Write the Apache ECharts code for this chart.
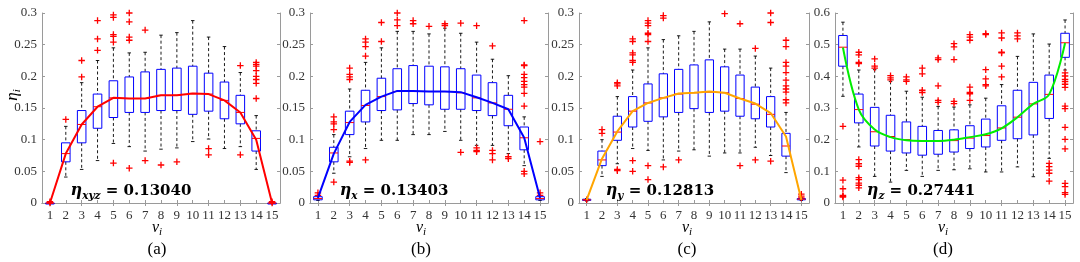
<!DOCTYPE html>
<html>
<head>
<meta charset="utf-8">
<script src="https://cdn.jsdelivr.net/npm/echarts@6.0.0/dist/echarts.min.js"></script>
<style>
html, body { margin: 0; padding: 0; background: #fff; }
#chart { width: 1080px; height: 262px; }
</style>
</head>
<body>
<div id="chart"></div>
<script>
// categories v_i
var cats = ['1', '2', '3', '4', '5', '6', '7', '8', '9', '10', '11', '12', '13', '14', '15'];

// box stats per category: [low whisker, q1, median, q3, high whisker]
var boxA = [
    [0, 0, 0, 0, 0], [0.041, 0.065, 0.078, 0.095, 0.121], [0.053, 0.095, 0.124, 0.146, 0.19],
    [0.067, 0.118, 0.152, 0.172, 0.225], [0.094, 0.135, 0.166, 0.193, 0.245], [0.089, 0.143, 0.165, 0.199, 0.237],
    [0.082, 0.143, 0.165, 0.207, 0.238], [0.085, 0.146, 0.17, 0.211, 0.265], [0.087, 0.146, 0.17, 0.213, 0.269],
    [0.097, 0.14, 0.173, 0.216, 0.288], [0.101, 0.145, 0.172, 0.205, 0.262], [0.086, 0.133, 0.162, 0.191, 0.247],
    [0.089, 0.125, 0.143, 0.17, 0.206], [0.053, 0.082, 0.102, 0.114, 0.138], [0, 0, 0, 0, 0]
];
var outA = [
    [0, 0.002], [0.132], [0.199, 0.225], [0.241, 0.259, 0.288], [0.063, 0.254, 0.263, 0.266, 0.293, 0.297],
    [0.055, 0.257, 0.262, 0.286, 0.3], [0.067, 0.273], [0.06], [0.065], [], [0.076, 0.086], [],
    [0.076, 0.217], [0.165, 0.189, 0.195, 0.2, 0.209, 0.216, 0.219, 0.222], [0, 0.002]
];
var meanA = [0, 0.078, 0.124, 0.152, 0.166, 0.165, 0.165, 0.17, 0.17, 0.173, 0.172, 0.162, 0.143, 0.1, 0];

var boxB = [
    [0.004, 0.005, 0.007, 0.01, 0.012], [0.047, 0.065, 0.079, 0.088, 0.108], [0.073, 0.108, 0.127, 0.145, 0.18],
    [0.086, 0.128, 0.154, 0.178, 0.222], [0.099, 0.146, 0.168, 0.197, 0.245], [0.099, 0.147, 0.176, 0.212, 0.271],
    [0.108, 0.157, 0.176, 0.217, 0.271], [0.108, 0.155, 0.176, 0.216, 0.267], [0.113, 0.148, 0.176, 0.215, 0.276],
    [0.099, 0.148, 0.174, 0.212, 0.268], [0.091, 0.146, 0.166, 0.202, 0.254], [0.091, 0.138, 0.158, 0.19, 0.227],
    [0.078, 0.122, 0.148, 0.17, 0.201], [0.059, 0.084, 0.103, 0.12, 0.136], [0.004, 0.005, 0.007, 0.01, 0.012]
];
var outB = [
    [0.012, 0.016], [0.033, 0.116, 0.125, 0.128, 0.136], [0.064, 0.066, 0.195, 0.199, 0.203, 0.213],
    [0.068, 0.232, 0.247, 0.254, 0.259], [0.255, 0.285], [0.28, 0.289, 0.3], [0.283, 0.288], [0.279],
    [0.28, 0.283], [0.08, 0.284], [0.081, 0.083, 0.087, 0.28], [0.068, 0.078, 0.083, 0.248], [0.07, 0.073],
    [0.046, 0.05, 0.153, 0.173, 0.183, 0.187, 0.192, 0.198, 0.203, 0.217, 0.218, 0.288], [0.012, 0.016, 0.097]
];
var meanB = [0.008, 0.078, 0.128, 0.155, 0.168, 0.177, 0.177, 0.176, 0.176, 0.175, 0.167, 0.158, 0.148, 0.103, 0.008];

var boxC = [
    [0.003, 0.004, 0.005, 0.006, 0.007], [0.042, 0.059, 0.068, 0.082, 0.1], [0.062, 0.099, 0.112, 0.137, 0.168],
    [0.086, 0.12, 0.145, 0.168, 0.21], [0.083, 0.129, 0.158, 0.188, 0.245], [0.068, 0.136, 0.166, 0.204, 0.258],
    [0.082, 0.143, 0.172, 0.211, 0.264], [0.084, 0.149, 0.174, 0.218, 0.271], [0.074, 0.143, 0.175, 0.226, 0.286],
    [0.079, 0.145, 0.174, 0.215, 0.243], [0.079, 0.137, 0.165, 0.202, 0.243], [0.088, 0.133, 0.156, 0.183, 0.232],
    [0.075, 0.12, 0.14, 0.168, 0.213], [0.048, 0.074, 0.09, 0.11, 0.143], [0.004, 0.005, 0.006, 0.007, 0.008]
];
var outC = [
    [0.005], [0.11, 0.116], [0.051, 0.053, 0.185, 0.188, 0.19], [0.05, 0.067, 0.222, 0.225, 0.234, 0.237, 0.255, 0.259],
    [0.037, 0.059, 0.255, 0.266, 0.268, 0.28, 0.284, 0.288], [0.057, 0.292, 0.296], [0.068], [], [],
    [0.299], [0.059, 0.283], [0.068, 0.244], [0.066, 0.285, 0.3],
    [0.158, 0.163, 0.175, 0.18, 0.185, 0.194, 0.206, 0.216, 0.222, 0.247, 0.257], [0.008, 0.011, 0.014]
];
var meanC = [0.005, 0.07, 0.113, 0.145, 0.158, 0.166, 0.173, 0.174, 0.176, 0.174, 0.165, 0.157, 0.142, 0.105, 0.005];

var boxD = [
    [0.337, 0.432, 0.492, 0.529, 0.571], [0.177, 0.253, 0.295, 0.344, 0.42], [0.084, 0.18, 0.225, 0.302, 0.421],
    [0.066, 0.164, 0.21, 0.277, 0.384], [0.103, 0.158, 0.2, 0.256, 0.353], [0.084, 0.151, 0.195, 0.242, 0.334],
    [0.103, 0.154, 0.195, 0.229, 0.305], [0.105, 0.161, 0.197, 0.231, 0.303], [0.108, 0.172, 0.205, 0.244, 0.31],
    [0.098, 0.177, 0.213, 0.265, 0.331], [0.098, 0.198, 0.237, 0.307, 0.374], [0.114, 0.203, 0.271, 0.356, 0.463],
    [0.083, 0.215, 0.313, 0.381, 0.534], [0.141, 0.267, 0.343, 0.404, 0.502], [0.42, 0.46, 0.506, 0.536, 0.578]
];
var outD = [
    [0.019, 0.021, 0.024, 0.045, 0.072, 0.242],
    [0.048, 0.056, 0.063, 0.074, 0.08, 0.116, 0.124, 0.137, 0.44, 0.444, 0.468, 0.476],
    [0.426, 0.432, 0.455], [0.389, 0.395, 0.402], [0.384, 0.389, 0.398], [0.349, 0.356, 0.408, 0.426],
    [0.318, 0.324, 0.37, 0.453, 0.458], [0.314, 0.321, 0.453, 0.493, 0.503],
    [0.324, 0.345, 0.349, 0.366, 0.514, 0.524, 0.532], [0.37, 0.374, 0.392, 0.421, 0.532, 0.535],
    [0.398, 0.432, 0.474, 0.476, 0.521, 0.537], [0.518, 0.528, 0.537], [],
    [0.069, 0.094, 0.104, 0.115, 0.125],
    [0.027, 0.033, 0.052, 0.062, 0.171, 0.201, 0.239, 0.298, 0.306, 0.365, 0.375, 0.383, 0.39, 0.401, 0.411]
];
var meanD = [0.491, 0.295, 0.232, 0.208, 0.198, 0.196, 0.196, 0.2, 0.208, 0.217, 0.236, 0.271, 0.313, 0.343, 0.505];

var etaSubs = ['xyz', 'x', 'y', 'z'];
var etaValues = ['0.13040', '0.13403', '0.12813', '0.27441'];
var panelNames = ['(a)', '(b)', '(c)', '(d)'];
var yMaxes = [0.3, 0.3, 0.3, 0.6];
var ySteps = [0.05, 0.05, 0.05, 0.1];

var boxes = [boxA, boxB, boxC, boxD];
var outs = [outA, outB, outC, outD];
var means = [meanA, meanB, meanC, meanD];
var lineColors = ['#ff0000', '#0000ff', '#ffa500', '#00ee00'];

var grids = [
    { left: 42, top: 13, width: 238, height: 190 },
    { left: 310, top: 13, width: 238, height: 190 },
    { left: 579, top: 13, width: 230, height: 190 },
    { left: 835, top: 13, width: 238, height: 190 }
];
var labelX = [131, 394, 660, 921];
var captionX = [157, 421, 687, 943];

var serif = 'Liberation Serif';
var axisGrey = '#9a9a9a';
var tickText = '#333';

function renderBox(params, api) {
    var i = api.value(0);
    var lo = api.coord([i, api.value(1)]);
    var q1 = api.coord([i, api.value(2)]);
    var md = api.coord([i, api.value(3)]);
    var q3 = api.coord([i, api.value(4)]);
    var hi = api.coord([i, api.value(5)]);
    var bw = api.size([1, 0])[0];
    var hw = bw * 0.27, cw = bw * 0.11;
    var cx = md[0];
    var dash = { stroke: '#000', lineWidth: 0.9, lineDash: [3, 2.5] };
    var solid = { stroke: '#000', lineWidth: 0.9 };
    return {
        type: 'group',
        children: [
            { type: 'line', shape: { x1: cx, y1: hi[1], x2: cx, y2: q3[1] }, style: dash },
            { type: 'line', shape: { x1: cx, y1: q1[1], x2: cx, y2: lo[1] }, style: dash },
            { type: 'line', shape: { x1: cx - cw, y1: hi[1], x2: cx + cw, y2: hi[1] }, style: solid },
            { type: 'line', shape: { x1: cx - cw, y1: lo[1], x2: cx + cw, y2: lo[1] }, style: solid },
            { type: 'rect', shape: { x: cx - hw, y: q3[1], width: 2 * hw, height: Math.max(q1[1] - q3[1], 1) },
              style: { fill: 'none', stroke: '#0000ff', lineWidth: 1 } },
            { type: 'line', shape: { x1: cx - hw, y1: md[1], x2: cx + hw, y2: md[1] },
              style: { stroke: '#ff0000', lineWidth: 1 } }
        ]
    };
}

var plus = 'path://M2,0H3V2H5V3H3V5H2V3H0V2H2Z';

var option = { animation: false, grid: [], xAxis: [], yAxis: [], series: [], graphic: [] };

for (var p = 0; p < 4; p++) {
    option.grid.push(grids[p]);
    var xBase = {
        type: 'category', data: cats, gridIndex: p, boundaryGap: true,
        axisLine: { show: true, lineStyle: { color: axisGrey, width: 1 } },
        axisTick: { show: true, inside: true, alignWithLabel: true, length: 3, lineStyle: { color: axisGrey } },
        splitLine: { show: false }
    };
    option.xAxis.push(Object.assign({}, xBase, {
        position: 'bottom',
        axisLabel: { show: true, interval: 0, margin: 6, fontFamily: serif, fontSize: 13, color: tickText }
    }));
    option.xAxis.push(Object.assign({}, xBase, { position: 'top', axisLabel: { show: false } }));
    var yBase = {
        type: 'value', gridIndex: p, min: 0, max: yMaxes[p], interval: ySteps[p],
        axisLine: { show: true, lineStyle: { color: axisGrey, width: 1 } },
        axisTick: { show: true, inside: true, length: 3, lineStyle: { color: axisGrey } },
        splitLine: { show: false }
    };
    option.yAxis.push(Object.assign({}, yBase, {
        position: 'left',
        axisLabel: { show: true, margin: 5, fontFamily: serif, fontSize: 13, color: tickText }
    }));
    option.yAxis.push(Object.assign({}, yBase, { position: 'right', axisLabel: { show: false } }));

    var boxData = boxes[p].map(function (b, i) { return [i].concat(b); });
    option.series.push({
        type: 'custom', xAxisIndex: 2 * p, yAxisIndex: 2 * p, z: 2,
        renderItem: renderBox,
        encode: { x: 0, y: [1, 2, 3, 4, 5] },
        data: boxData
    });

    var outData = [];
    outs[p].forEach(function (list, i) {
        list.forEach(function (v) { outData.push([i, v]); });
    });
    option.series.push({
        type: 'scatter', xAxisIndex: 2 * p, yAxisIndex: 2 * p, z: 3,
        symbol: plus, symbolSize: 6.5,
        itemStyle: { color: '#ff0000', opacity: 1 },
        data: outData
    });

    option.series.push({
        type: 'line', xAxisIndex: 2 * p, yAxisIndex: 2 * p, z: 4,
        showSymbol: false, smooth: p === 3 ? 0.35 : false,
        lineStyle: { color: lineColors[p], width: 2 },
        data: means[p]
    });

    option.graphic.push({
        type: 'text', x: labelX[p], y: 191, z: 10,
        style: {
            text: '{e|η}{s|' + etaSubs[p] + '}{n| = ' + etaValues[p] + '}',
            align: 'center', verticalAlign: 'middle',
            rich: {
                e: { fontFamily: 'DejaVu Serif', fontWeight: 'bold', fontStyle: 'italic', fontSize: 16, fill: '#000', lineHeight: 22, verticalAlign: 'middle' },
                s: { fontFamily: 'DejaVu Serif', fontWeight: 'bold', fontStyle: 'italic', fontSize: 10.5, fill: '#000', lineHeight: 22, verticalAlign: 'bottom' },
                n: { fontFamily: 'DejaVu Serif', fontWeight: 'bold', fontSize: 15, fill: '#000', lineHeight: 22, verticalAlign: 'middle' }
            }
        }
    });
    option.graphic.push({
        type: 'text', x: captionX[p], y: 228,
        style: {
            text: '{v|v}{s|i}', align: 'center', verticalAlign: 'middle',
            rich: {
                v: { fontFamily: serif, fontStyle: 'italic', fontSize: 16, fill: '#000', lineHeight: 20, verticalAlign: 'middle' },
                s: { fontFamily: serif, fontStyle: 'italic', fontSize: 11, fill: '#000', lineHeight: 20, verticalAlign: 'bottom' }
            }
        }
    });
    option.graphic.push({
        type: 'text', x: captionX[p], y: 250,
        style: { text: panelNames[p], align: 'center', verticalAlign: 'middle', fontFamily: serif, fontSize: 17, fill: '#000' }
    });
}

// y axis name on the first panel
option.graphic.push({
    type: 'text', x: 13, y: 95, rotation: Math.PI / 2,
    style: {
        text: '{v|η}{s|i}', align: 'center', verticalAlign: 'middle',
        rich: {
            v: { fontFamily: serif, fontStyle: 'italic', fontSize: 17, fill: '#000', lineHeight: 20, verticalAlign: 'middle' },
            s: { fontFamily: serif, fontStyle: 'italic', fontSize: 11, fill: '#000', lineHeight: 20, verticalAlign: 'bottom' }
        }
    }
});

var chart = echarts.init(document.getElementById('chart'));
chart.setOption(option);
window.onresize = function () { chart.resize(); };
</script>
</body>
</html>
